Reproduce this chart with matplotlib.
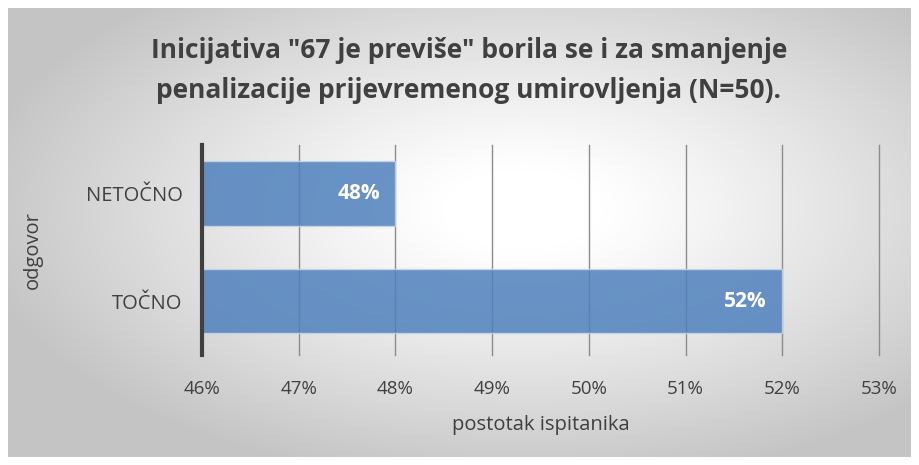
import numpy as np
import matplotlib.pyplot as plt
from matplotlib.ticker import FuncFormatter

# podaci
categories = ['TOČNO', 'NETOČNO']
values = [52, 48]
labels = ['52%', '48%']
xticks = [46, 47, 48, 49, 50, 51, 52, 53]

title_lines = ['Inicijativa "67 je previše" borila se i za smanjenje',
               'penalizacije prijevremenog umirovljenja (N=50).']

plt.rcParams['font.family'] = ['Open Sans', 'DejaVu Sans']

W, H = 919, 465
fig = plt.figure(figsize=(W / 100, H / 100), dpi=100)
fig.patch.set_facecolor('white')

# pozadina s radijalnim gradijentom
bg = fig.add_axes([8 / W, 8 / H, (W - 16) / W, (H - 16) / H])
yy, xx = np.mgrid[0:1:300j, 0:1:600j]
r = np.sqrt(((xx - 0.57) / 0.75) ** 2 + ((yy - 0.45) / 0.75) ** 2)
g = np.clip(1.0 - 0.34 * np.clip(r - 0.12, 0, None) ** 1.1, 0.77, 1.0)
bg.imshow(np.dstack([g, g, g]), aspect='auto', extent=[0, 1, 0, 1], interpolation='bilinear')
bg.set_axis_off()

ax = fig.add_axes([202 / W, (H - 355) / H, (879 - 202) / W, (355 - 145) / H])
ax.patch.set_alpha(0)

y = np.arange(len(categories))
ax.barh(y, values, height=0.6, left=0, color='#4f81bd', alpha=0.85,
        edgecolor='#c8d6ea', linewidth=1, zorder=3)
ax.set_xlim(46, 53)
ax.set_ylim(-0.5, 1.45)
ax.set_xticks(xticks)
ax.xaxis.set_major_formatter(FuncFormatter(lambda v, p: f'{v:.0f}%'))
ax.set_yticks(y)
ax.set_yticklabels(categories, fontsize=14.5)
ax.tick_params(axis='both', length=0, colors='#404040')
ax.tick_params(axis='x', pad=18, labelsize=13.5)
ax.tick_params(axis='y', pad=14)
ax.grid(axis='x', color='#8c8c8c', linewidth=1, zorder=1)
for gl in ax.get_xgridlines():
    gl.set_clip_on(False)
for s in ['top', 'right', 'bottom']:
    ax.spines[s].set_visible(False)
ax.spines['left'].set_color('#404040')
ax.spines['left'].set_linewidth(3)
ax.spines['left'].set_zorder(5)

for yi, v, lab in zip(y, values, labels):
    ax.text(v - 0.38, yi, lab, ha='center', va='center', color='white',
            fontsize=15, fontweight='bold', zorder=4)

ax.set_xlabel('postotak ispitanika', fontsize=14.5, color='#404040')
ax.set_ylabel('odgovor', fontsize=14.5, color='#404040')
ax.xaxis.set_label_coords(0.5, (355 - 425) / 210, transform=ax.transAxes)
ax.xaxis.label.set_va('center')
ax.yaxis.set_label_coords((33 - 202) / 677, 0.5, transform=ax.transAxes)
ax.yaxis.label.set_va('center')

for i, line in enumerate(title_lines):
    fig.text(469 / W, 1 - (50 + 40 * i) / H, line, ha='center', va='center',
             fontsize=19, fontweight='bold', color='#404040')

fig.savefig('out.png', dpi=100, facecolor='white')
